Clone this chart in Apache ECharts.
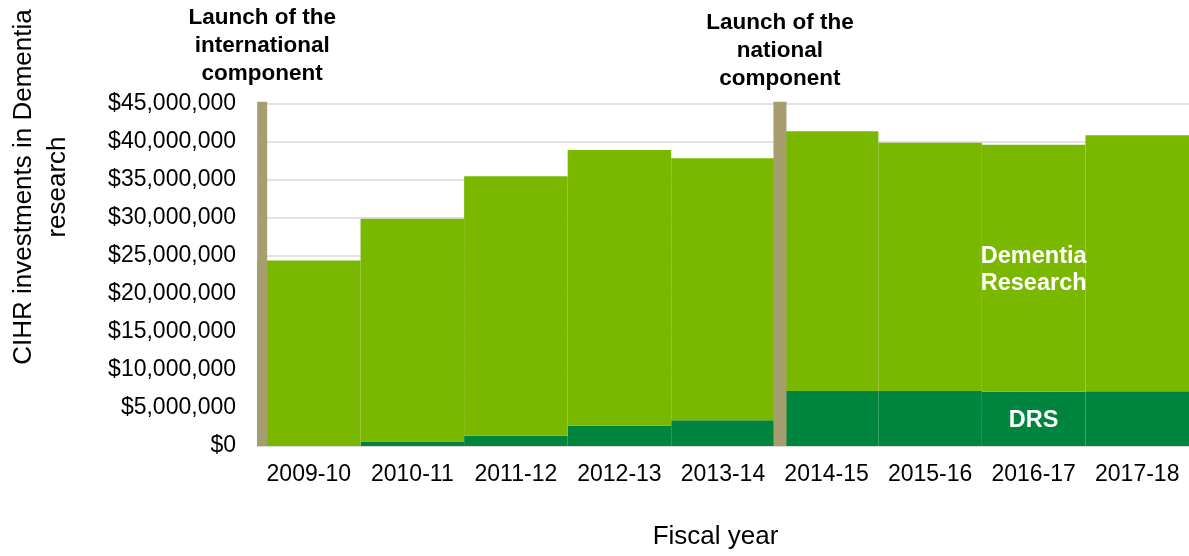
<!DOCTYPE html>
<html>
<head>
<meta charset="utf-8">
<title>CIHR investments in Dementia research</title>
<script src="https://cdn.jsdelivr.net/npm/echarts@6/dist/echarts.min.js"></script>
<style>
  html, body { margin: 0; padding: 0; background: #ffffff; }
  #chart { width: 1189px; height: 556px; }
</style>
</head>
<body>
<div id="chart"></div>
<script>
// Fiscal years on the x axis
const fiscalYears = ['2009-10', '2010-11', '2011-12', '2012-13', '2013-14',
                     '2014-15', '2015-16', '2016-17', '2017-18'];

// Total CIHR investment in dementia research per year ($)
const totalInvestment = [24400000, 29900000, 35500000, 38950000, 37850000,
                         41400000, 39900000, 39650000, 40900000];

// Portion of that investment going to the Dementia Research Strategy (DRS) ($)
const drsInvestment = [0, 600000, 1350000, 2650000, 3400000,
                       7250000, 7250000, 7150000, 7200000];

// Y axis scale
const yMin = 0;
const yMax = 45000000;
const yStep = 5000000;

// Program launches: fiscal-year index where each component started
const launchYearIndex = [0, 5];
const launchLabels = ['Launch of the\ninternational\ncomponent',
                      'Launch of the\nnational\ncomponent'];

// Year whose bars carry the series names
const nameLabelIndex = 7;

const otherResearch = totalInvestment.map((t, i) => t - drsInvestment[i]);

const FONT = "'Liberation Sans', Arial, Helvetica, sans-serif";
const GREEN_LIGHT = '#7ab800';
const GREEN_DARK = '#00853f';
const TAN = '#a69e6e';

const chart = echarts.init(document.getElementById('chart'), null, { renderer: 'canvas' });

function withNameLabel(values, text) {
  return values.map((v, i) => i === nameLabelIndex ? {
    value: v,
    label: {
      show: true, position: 'inside', formatter: text,
      color: '#ffffff', fontFamily: FONT, fontWeight: 'bold',
      fontSize: 23.5, lineHeight: 27, offset: [0, 2]
    }
  } : v);
}

const launchSeries = launchYearIndex.map((idx, k) => ({
  type: 'line',
  name: 'launch' + k,
  xAxisIndex: 1,
  yAxisIndex: 0,
  clip: false,
  silent: true,
  z: 5,
  symbol: 'rect',
  symbolSize: 0.1,
  lineStyle: { color: TAN, width: k === 0 ? 10 : 13, cap: 'butt' },
  itemStyle: { color: TAN },
  data: [
    [idx + 0.05, 0],
    {
      value: [idx + 0.05, 45300000],
      label: {
        show: true, position: 'top', distance: k === 0 ? 14 : 9,
        formatter: launchLabels[k],
        color: '#000000', fontFamily: FONT, fontWeight: 'bold',
        fontSize: 22.5, lineHeight: 28, align: 'center'
      }
    }
  ]
}));

chart.setOption({
  animation: false,
  textStyle: { fontFamily: FONT },
  grid: { left: 257, right: -5, top: 104, bottom: 110, containLabel: false },
  xAxis: [
    {
      type: 'category',
      data: fiscalYears,
      boundaryGap: true,
      axisTick: { show: false },
      axisLine: { show: true, lineStyle: { color: '#d9d9d9', width: 1.5 } },
      axisLabel: { color: '#000000', fontSize: 23, margin: 17, fontFamily: FONT, interval: 0 },
      name: 'Fiscal year',
      nameLocation: 'middle',
      nameGap: 78,
      nameTextStyle: { color: '#000000', fontSize: 26, fontFamily: FONT, padding: [0, 15, 0, 0] }
    },
    { type: 'value', min: 0, max: fiscalYears.length, show: false }
  ],
  yAxis: {
    type: 'value',
    min: yMin,
    max: yMax,
    interval: yStep,
    axisLine: { show: false },
    axisTick: { show: false },
    splitLine: { show: true, lineStyle: { color: '#dbd6da', width: 1.5 } },
    axisLabel: {
      color: '#000000', fontSize: 23, margin: 21, fontFamily: FONT,
      formatter: v => '$' + v.toLocaleString('en-US')
    }
  },
  graphic: [{
    type: 'text',
    x: 41,
    y: 187,
    rotation: Math.PI / 2,
    style: {
      text: 'CIHR investments in Dementia\nresearch',
      fill: '#000000',
      font: "26px 'Liberation Sans', Arial, sans-serif",
      lineHeight: 34,
      align: 'center',
      verticalAlign: 'middle'
    }
  }],
  series: [
    {
      type: 'bar',
      name: 'DRS',
      stack: 'investment',
      barCategoryGap: '0%',
      itemStyle: { color: GREEN_DARK },
      data: withNameLabel(drsInvestment, 'DRS')
    },
    {
      type: 'bar',
      name: 'Dementia Research',
      stack: 'investment',
      barCategoryGap: '0%',
      itemStyle: { color: GREEN_LIGHT },
      data: withNameLabel(otherResearch, 'Dementia\nResearch')
    },
    ...launchSeries
  ]
});
</script>
</body>
</html>
